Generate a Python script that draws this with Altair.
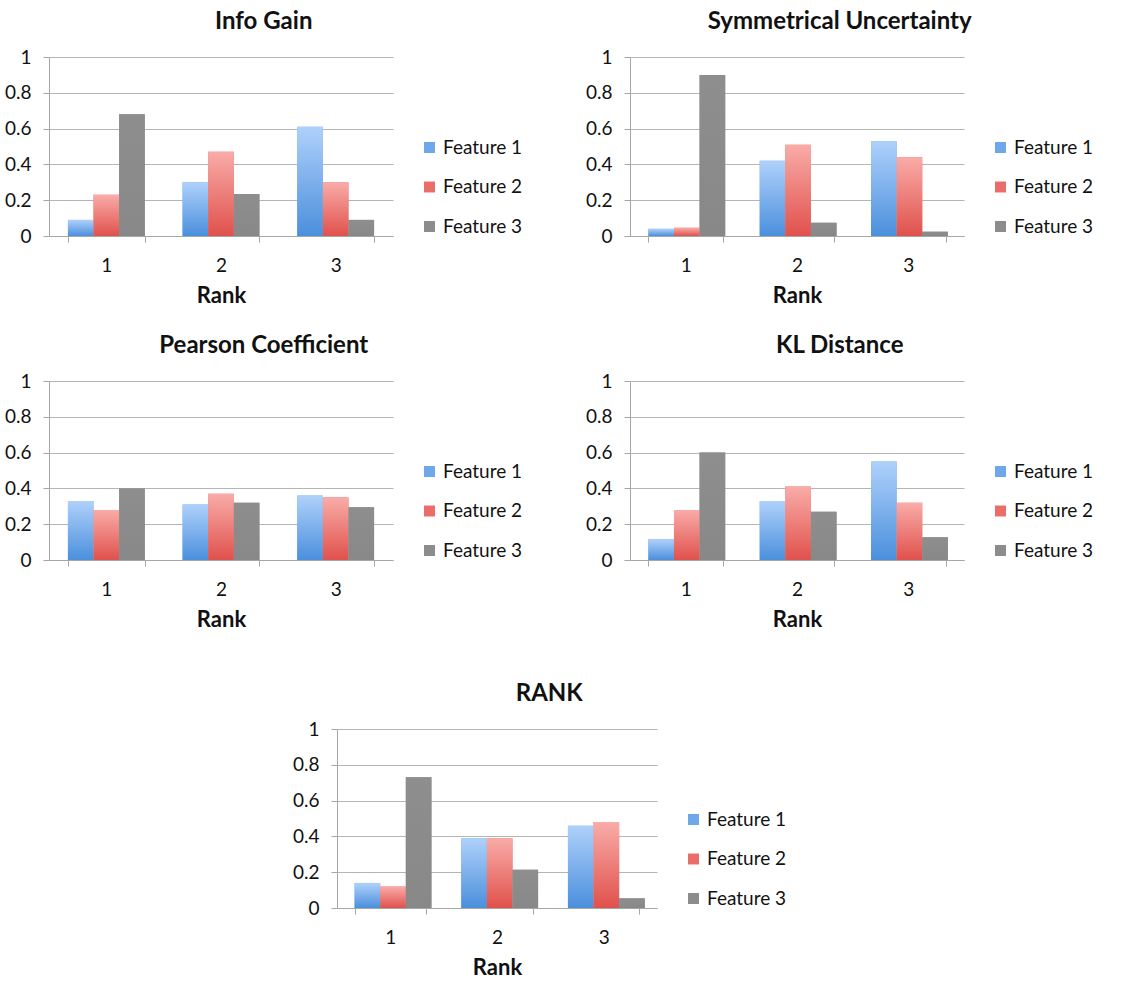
import altair as alt
import pandas as pd

ranks = ["1", "2", "3"]
features = ["Feature 1", "Feature 2", "Feature 3"]
y_ticks = [0, 0.2, 0.4, 0.6, 0.8, 1]

info_gain_f1 = [0.09, 0.30, 0.61]
info_gain_f2 = [0.23, 0.47, 0.30]
info_gain_f3 = [0.68, 0.235, 0.09]

sym_unc_f1 = [0.04, 0.42, 0.53]
sym_unc_f2 = [0.046, 0.51, 0.44]
sym_unc_f3 = [0.90, 0.074, 0.024]

pearson_f1 = [0.33, 0.31, 0.36]
pearson_f2 = [0.28, 0.37, 0.35]
pearson_f3 = [0.40, 0.32, 0.295]

kl_f1 = [0.116, 0.33, 0.55]
kl_f2 = [0.28, 0.41, 0.32]
kl_f3 = [0.60, 0.27, 0.127]

rank_f1 = [0.14, 0.39, 0.46]
rank_f2 = [0.12, 0.39, 0.48]
rank_f3 = [0.73, 0.214, 0.054]

solid = ["#6ea7ea", "#ea6d69", "#8c8c8c"]
grads = [
    alt.Gradient(gradient="linear", x1=0, x2=0, y1=0, y2=1,
                 stops=[alt.GradientStop(color="#afd1fb", offset=0),
                        alt.GradientStop(color="#4b8fdc", offset=1)]),
    alt.Gradient(gradient="linear", x1=0, x2=0, y1=0, y2=1,
                 stops=[alt.GradientStop(color="#f9aca8", offset=0),
                        alt.GradientStop(color="#e0514c", offset=1)]),
    alt.Gradient(gradient="linear", x1=0, x2=0, y1=0, y2=1,
                 stops=[alt.GradientStop(color="#8e8e8e", offset=0),
                        alt.GradientStop(color="#888888", offset=1)]),
]

FONT = "Lato"


def panel(title, f1, f2, f3, width, legend_pad=0):
    vals = [f1, f2, f3]
    rows = []
    for fi, f in enumerate(features):
        for ri, r in enumerate(ranks):
            rows.append({"Rank": r, "Feature": f, "Value": vals[fi][ri]})
    df = pd.DataFrame(rows)
    base = alt.Chart(df).encode(
        x=alt.X("Rank:N", sort=ranks,
                scale=alt.Scale(paddingInner=0.33, paddingOuter=0.165),
                axis=alt.Axis(title="Rank", labelAngle=0, tickBand="extent",
                              grid=False, ticks=True, tickSize=6,
                              labelPadding=14, titlePadding=10)),
        xOffset=alt.XOffset("Feature:N",
                            scale=alt.Scale(domain=features, paddingInner=0, paddingOuter=0)),
        y=alt.Y("Value:Q", scale=alt.Scale(domain=[0, 1]),
                axis=alt.Axis(title=None, values=y_ticks, format=".1~f",
                              grid=True, tickSize=6, labelPadding=12)),
    )
    legend_layer = base.mark_bar().encode(
        color=alt.Color("Feature:N",
                        scale=alt.Scale(domain=features, range=solid),
                        legend=alt.Legend(title=None, orient="none",
                                          legendX=width + 27 - legend_pad,
                                          legendY=81 - legend_pad,
                                          padding=legend_pad,
                                          symbolType="square", symbolSize=120,
                                          symbolStrokeWidth=0, symbolOpacity=1,
                                          labelFontSize=19, labelFont=FONT,
                                          labelColor="#111111",
                                          rowPadding=19.5, labelOffset=4))
    )
    overlays = [
        base.transform_filter(alt.datum.Feature == f).mark_bar(color=g)
        for f, g in zip(features, grads)
    ]
    return alt.layer(legend_layer, *overlays).properties(
        width=width, height=179,
        title=alt.TitleParams(title, frame="bounds", anchor="middle",
                              fontSize=24, font=FONT, fontWeight="bold",
                              color="#111111", offset=14),
    )


p1 = panel("Info Gain", info_gain_f1, info_gain_f2, info_gain_f3, 344)
p2 = panel("Symmetrical Uncertainty", sym_unc_f1, sym_unc_f2, sym_unc_f3, 334)
p3 = panel("Pearson Coefficient", pearson_f1, pearson_f2, pearson_f3, 344)
p4 = panel("KL Distance", kl_f1, kl_f2, kl_f3, 334)
p5 = panel("RANK", rank_f1, rank_f2, rank_f3, 320, legend_pad=19)

row1 = alt.hconcat(p1, p2, spacing=62).resolve_scale(color="independent").resolve_legend(color="independent")
row2 = alt.hconcat(p3, p4, spacing=62).resolve_scale(color="independent").resolve_legend(color="independent")

top = alt.vconcat(row1, row2, spacing=28).resolve_scale(
    color="independent").resolve_legend(color="independent")

chart = alt.vconcat(top, p5, spacing=52, center=True).resolve_scale(
    color="independent").resolve_legend(color="independent").properties(
    padding={"left": 4, "top": 10, "right": 5, "bottom": 5}
).configure_view(stroke=None).configure_axis(
    labelFont=FONT, labelFontSize=19, labelColor="#111111",
    titleFont=FONT, titleFontSize=22, titleFontWeight="bold", titleColor="#111111",
    gridColor="#b5b5b5", domainColor="#a6a6a6", tickColor="#a6a6a6",
    domainWidth=1, gridWidth=1,
).configure_bar(stroke=None)

chart.save("out.html", embed_options={"renderer": "svg", "actions": False})
